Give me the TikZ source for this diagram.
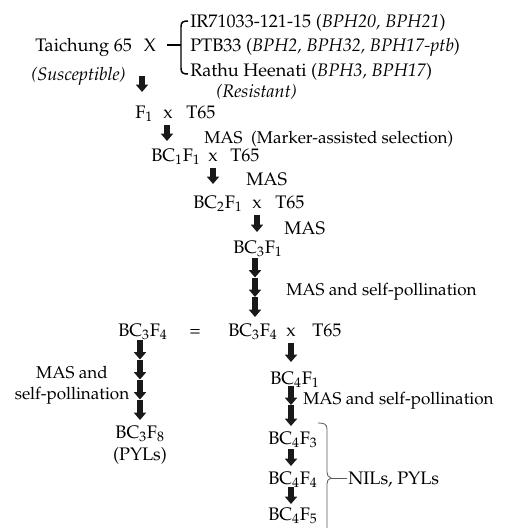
\documentclass[tikz,border=0pt]{standalone}
\usepackage{amsmath}
\usepackage[T1]{fontenc}
\usepackage{mathpazo}
\usepackage{tikz}
\usetikzlibrary{arrows.meta}

\tikzset{
  txt/.style={anchor=base west,inner sep=0.75pt,font=\fontsize{13.6}{16}\selectfont},
  ctxt/.style={anchor=base,inner sep=0.75pt,font=\fontsize{13.6}{16}\selectfont},
  note/.style={anchor=base west,inner sep=0.75pt,font=\fontsize{12.8}{15.5}\selectfont},
  blockarrow/.style={line width=4.3pt,color={rgb, 255:red, 25; green, 25; blue, 25 },-{Triangle[width=9pt,length=5.5pt]}},
  thinbrace/.style={color={rgb, 255:red, 90; green, 90; blue, 90 },line width=0.6pt}
}

\begin{document}
\begin{tikzpicture}[x=0.75pt,y=0.75pt,yscale=-1,xscale=1]
\useasboundingbox (0,0) rectangle (504,528);

% Text Node
\node [txt] (tc65) at (34,52) {Taichung 65};
% Text Node
\node [ctxt] (crossx) at (150,52) {X};
% Text Node
\node [txt] (ir71) at (189,28) {IR71033-121-15 (\textit{BPH20, BPH21})};
% Text Node
\node [txt] (ptb33) at (189,52) {PTB33 (\textit{BPH2, BPH32, BPH17-ptb})};
% Text Node
\node [txt] (rathu) at (189,76) {Rathu Heenati (\textit{BPH3, BPH17})};
% Text Node
\node [txt] (suscep) at (30,80) {\textit{(Susceptible)}};
% Text Node
\node [txt] (resist) at (215,98) {\textit{(Resistant)}};

%Shape: Bracket
\coordinate (brtop) at (188,21);
\coordinate (brbot) at (188,74);
\coordinate (brmid) at (181,45);
\draw [line width=1.1pt] (brtop) .. controls (183,21) and (181,22) .. (181,27) -- (181,68) .. controls (181,73) and (183,74) .. (brbot) ;
%Straight Lines
\draw [line width=1.1pt] (167,45) -- (brmid) ;

% Text Node
\node [txt] (fone) at (134,118) {F$_1$};
% Text Node
\node [ctxt] (fonex) at (168,118) {x};
% Text Node
\node [txt] (fonet) at (185,118) {T65};
% Text Node
\node [note] (mas1) at (203,143) {MAS\ \ (Marker-assisted selection)};
% Text Node
\node [txt] (bcone) at (150,161) {BC$_1$F$_1$};
% Text Node
\node [ctxt] (bconex) at (213,161) {x};
% Text Node
\node [txt] (bconet) at (229,161) {T65};
% Text Node
\node [txt] (mas2) at (245,185) {MAS};
% Text Node
\node [txt] (bctwo) at (192,208) {BC$_2$F$_1$};
% Text Node
\node [ctxt] (bctwox) at (257,208) {x};
% Text Node
\node [txt] (bctwot) at (274,208) {T65};
% Text Node
\node [txt] (mas3) at (283,234) {MAS};
% Text Node
\node [txt] (bcthree) at (232,253) {BC$_3$F$_1$};
% Text Node
\node [note] (masself1) at (285,295) {MAS and self-pollination};
% Text Node
\node [txt] (bcfourl) at (117,336) {BC$_3$F$_4$};
% Text Node
\node [ctxt] (equal) at (195,336) {=};
% Text Node
\node [txt] (bcfourr) at (227,336) {BC$_3$F$_4$};
% Text Node
\node [ctxt] (bcfourx) at (291,336) {x};
% Text Node
\node [txt] (bcfourt) at (311,336) {T65};
% Text Node
\node [note,anchor=base,align=center] (masself2) at (72,399) {MAS and\\self-pollination};
% Text Node
\node [ctxt,align=center] (bceight) at (140,460) {BC$_3$F$_8$\\(PYLs)};
% Text Node
\node [txt] (bcfone) at (269,384) {BC$_4$F$_1$};
% Text Node
\node [note] (masself3) at (302,404) {MAS and self-pollination};
% Text Node
\node [txt] (bcfthree) at (267,444) {BC$_4$F$_3$};
% Text Node
\node [txt] (bcffour) at (267,484) {BC$_4$F$_4$};
% Text Node
\node [txt] (bcffive) at (267,520) {BC$_4$F$_5$};
% Text Node
\node [txt] (nils) at (347,484) {NILs, PYLs};

%Shape: Brace
\coordinate (bratip) at (331,478);
\draw [thinbrace] (318,423) .. controls (324,423) and (327,424) .. (327,429) -- (327,472) .. controls (327,475) and (328,477) .. (bratip) .. controls (328,479) and (327,481) .. (327,484) -- (327,531) ;
%Straight Lines
\draw [thinbrace] (bratip) -- (nils.west |- bratip) ;

%Straight Lines (arrows)
\coordinate (a1s) at (142,76);   \coordinate (a1e) at (142,92);
\draw [blockarrow] (a1s) -- (a1e) ;
\coordinate (a2s) at (167,125);  \coordinate (a2e) at (167,141);
\draw [blockarrow] (a2s) -- (a2e) ;
\coordinate (a3s) at (213,168);  \coordinate (a3e) at (213,184);
\draw [blockarrow] (a3s) -- (a3e) ;
\coordinate (a4s) at (257,215);  \coordinate (a4e) at (257,232);
\draw [blockarrow] (a4s) -- (a4e) ;
% three in a row
\coordinate (a5s) at (255,258);  \coordinate (a5m) at (255,277.5);
\coordinate (a5n) at (255,297);  \coordinate (a5e) at (255,317);
\draw [blockarrow] (a5s) -- (a5m) ;
\draw [blockarrow] (a5m) -- (a5n) ;
\draw [blockarrow] (a5n) -- (a5e) ;
% four in a row
\coordinate (a6s) at (140,340);  \coordinate (a6m) at (140,359.5);
\coordinate (a6n) at (140,379.5);  \coordinate (a6o) at (140,399.5);
\coordinate (a6e) at (140,420);
\draw [blockarrow] (a6s) -- (a6m) ;
\draw [blockarrow] (a6m) -- (a6n) ;
\draw [blockarrow] (a6n) -- (a6o) ;
\draw [blockarrow] (a6o) -- (a6e) ;
\coordinate (a7s) at (291,343);  \coordinate (a7e) at (291,362);
\draw [blockarrow] (a7s) -- (a7e) ;
\coordinate (a8s) at (291,386);  \coordinate (a8m) at (291,405);
\coordinate (a8e) at (291,426);
\draw [blockarrow] (a8s) -- (a8m) ;
\draw [blockarrow] (a8m) -- (a8e) ;
\coordinate (a9s) at (291,449);  \coordinate (a9e) at (291,466);
\draw [blockarrow] (a9s) -- (a9e) ;
\coordinate (a10s) at (291,487); \coordinate (a10e) at (291,504);
\draw [blockarrow] (a10s) -- (a10e) ;

\end{tikzpicture}
\end{document}
